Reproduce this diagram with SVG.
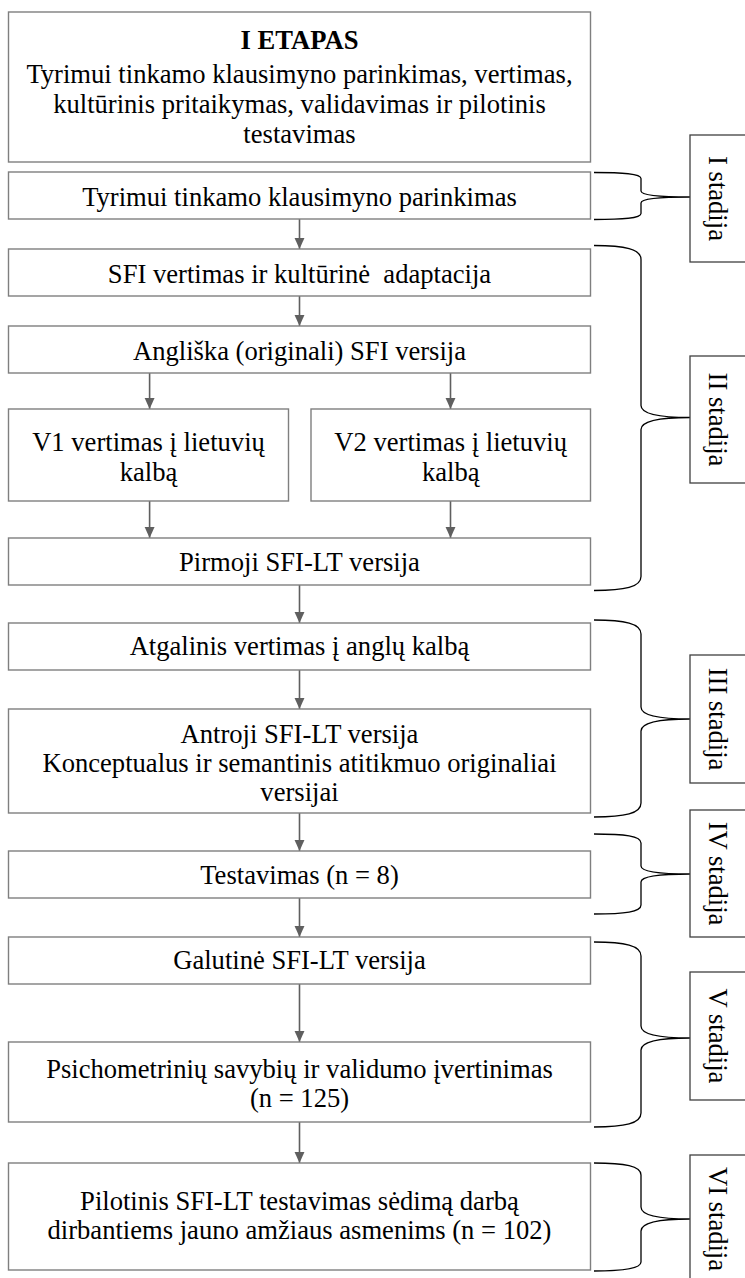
<svg xmlns="http://www.w3.org/2000/svg" width="745" height="1278" viewBox="0 0 745 1278">
<style>
.box{fill:#fff;stroke:#7f7f7f;stroke-width:1.4}
.sbox{fill:#fff;stroke:#404040;stroke-width:1.3}
text{font-family:"Liberation Serif","Times New Roman",serif;font-size:26.6px;fill:#000;text-anchor:middle}
.b{font-weight:bold}
.arr{stroke:#5f5f5f;stroke-width:1.6;fill:none;marker-end:url(#ah)}
.br{stroke:#000;stroke-width:1.3;fill:none}
</style>
<defs>
<marker id="ah" viewBox="0 0 10 10" refX="10" refY="5" markerWidth="11" markerHeight="12" markerUnits="userSpaceOnUse" orient="auto">
<path d="M0,0.5 L10,5 L0,9.5 z" fill="#5f5f5f"/>
</marker>
</defs>
<rect width="745" height="1278" fill="#fff"/>

<g id="connectors">
<line class="arr" x1="299.5" y1="219" x2="299.5" y2="249"/>
<line class="arr" x1="299.5" y1="296" x2="299.5" y2="326"/>
<line class="arr" x1="149.6" y1="373" x2="149.6" y2="409"/>
<line class="arr" x1="450.5" y1="373" x2="450.5" y2="409"/>
<line class="arr" x1="149.6" y1="501" x2="149.6" y2="538"/>
<line class="arr" x1="450.5" y1="501" x2="450.5" y2="538"/>
<line class="arr" x1="299.5" y1="585" x2="299.5" y2="623"/>
<line class="arr" x1="299.5" y1="670" x2="299.5" y2="709"/>
<line class="arr" x1="299.5" y1="813" x2="299.5" y2="851"/>
<line class="arr" x1="299.5" y1="898" x2="299.5" y2="937"/>
<line class="arr" x1="299.5" y1="984" x2="299.5" y2="1042"/>
<line class="arr" x1="299.5" y1="1122" x2="299.5" y2="1163"/>
</g>

<g id="braces">
<path class="br" d="M594,172.5 C622,172.5 641,173.5 641,178.5 L641,191 C641,195 658,197 690,197 C658,197 641,199 641,203 L641,213.5 C641,218.5 622,219.5 594,219.5"/>
<path class="br" d="M594,245.5 C625,245.5 641,249 641,259.5 L641,405.5 C641,414 660,417.5 690,417.5 C660,417.5 641,421 641,429.5 L641,576.5 C641,587 625,590.5 594,590.5"/>
<path class="br" d="M594,620 C625,620 641,623.5 641,634 L641,707 C641,715.5 660,719 690,719 C660,719 641,722.5 641,731 L641,803 C641,813.5 625,817 594,817"/>
<path class="br" d="M594,834 C625,834 641,836 641,843 L641,866 C641,871.5 660,874 690,874 C660,874 641,876.5 641,882 L641,905 C641,912 625,914 594,914"/>
<path class="br" d="M594,942 C625,942 641,945.5 641,956 L641,1026 C641,1034.5 660,1038 690,1038 C660,1038 641,1041.5 641,1050 L641,1113 C641,1123.5 625,1127 594,1127"/>
<path class="br" d="M594,1163 C625,1163 641,1166 641,1175 L641,1207 C641,1215.5 660,1219 690,1219 C660,1219 641,1222.5 641,1231 L641,1262 C641,1268 625,1271 594,1271"/>
</g>

<g id="n_etapas">
<rect class="box" x="8.5" y="12" width="582" height="150"/>
<text class="b" x="299.5" y="49">I ETAPAS</text>
<text x="299.5" y="83">Tyrimui tinkamo klausimyno parinkimas, vertimas,</text>
<text x="299.5" y="113">kultūrinis pritaikymas, validavimas ir pilotinis</text>
<text x="299.5" y="143">testavimas</text>
</g>
<g id="n_parinkimas">
<rect class="box" x="8.5" y="172" width="582" height="47"/>
<text x="299.5" y="206">Tyrimui tinkamo klausimyno parinkimas</text>
</g>
<g id="n_vertimas">
<rect class="box" x="8.5" y="249" width="582" height="47"/>
<text x="299.5" y="283" xml:space="preserve">SFI vertimas ir kultūrinė  adaptacija</text>
</g>
<g id="n_angliska">
<rect class="box" x="8.5" y="326" width="582" height="47"/>
<text x="299.5" y="360">Angliška (originali) SFI versija</text>
</g>
<g id="n_v1">
<rect class="box" x="8.5" y="409" width="280" height="92"/>
<text x="148.5" y="451">V1 vertimas į lietuvių</text>
<text x="148.5" y="481">kalbą</text>
</g>
<g id="n_v2">
<rect class="box" x="311" y="409" width="279.5" height="92"/>
<text x="450.7" y="451">V2 vertimas į lietuvių</text>
<text x="450.7" y="481">kalbą</text>
</g>
<g id="n_pirmoji">
<rect class="box" x="8.5" y="538" width="582" height="47"/>
<text x="299.5" y="571">Pirmoji SFI-LT versija</text>
</g>
<g id="n_atgalinis">
<rect class="box" x="8.5" y="623" width="582" height="47"/>
<text x="299.5" y="655">Atgalinis vertimas į anglų kalbą</text>
</g>
<g id="n_antroji">
<rect class="box" x="8.5" y="709" width="582" height="104"/>
<text x="299.5" y="743">Antroji SFI-LT versija</text>
<text x="299.5" y="772">Konceptualus ir semantinis atitikmuo originaliai</text>
<text x="299.5" y="801">versijai</text>
</g>
<g id="n_testavimas">
<rect class="box" x="8.5" y="851" width="582" height="47"/>
<text x="299.5" y="884">Testavimas (n = 8)</text>
</g>
<g id="n_galutine">
<rect class="box" x="8.5" y="937" width="582" height="47"/>
<text x="299.5" y="969">Galutinė SFI-LT versija</text>
</g>
<g id="n_psicho">
<rect class="box" x="8.5" y="1042" width="582" height="80"/>
<text x="299.5" y="1078">Psichometrinių savybių ir validumo įvertinimas</text>
<text x="299.5" y="1107">(n = 125)</text>
</g>
<g id="n_pilotinis">
<rect class="box" x="8.5" y="1163" width="582" height="107"/>
<text x="299.5" y="1210">Pilotinis SFI-LT testavimas sėdimą darbą</text>
<text x="299.5" y="1239">dirbantiems jauno amžiaus asmenims (n = 102)</text>
</g>

<g id="s1">
<rect class="sbox" x="690" y="135" width="70" height="127"/>
<text transform="translate(717,198.5) rotate(90)" y="8.5">I stadija</text>
</g>
<g id="s2">
<rect class="sbox" x="690" y="356" width="70" height="127"/>
<text transform="translate(717,419.5) rotate(90)" y="8.5">II stadija</text>
</g>
<g id="s3">
<rect class="sbox" x="690" y="655" width="70" height="128"/>
<text transform="translate(717,719) rotate(90)" y="8.5">III stadija</text>
</g>
<g id="s4">
<rect class="sbox" x="690" y="810" width="70" height="127"/>
<text transform="translate(717,873.5) rotate(90)" y="8.5">IV stadija</text>
</g>
<g id="s5">
<rect class="sbox" x="690" y="972" width="70" height="128"/>
<text transform="translate(717,1036) rotate(90)" y="8.5">V stadija</text>
</g>
<g id="s6">
<rect class="sbox" x="690" y="1155" width="70" height="140"/>
<text transform="translate(717,1219) rotate(90)" y="8.5">VI stadija</text>
</g>
</svg>
